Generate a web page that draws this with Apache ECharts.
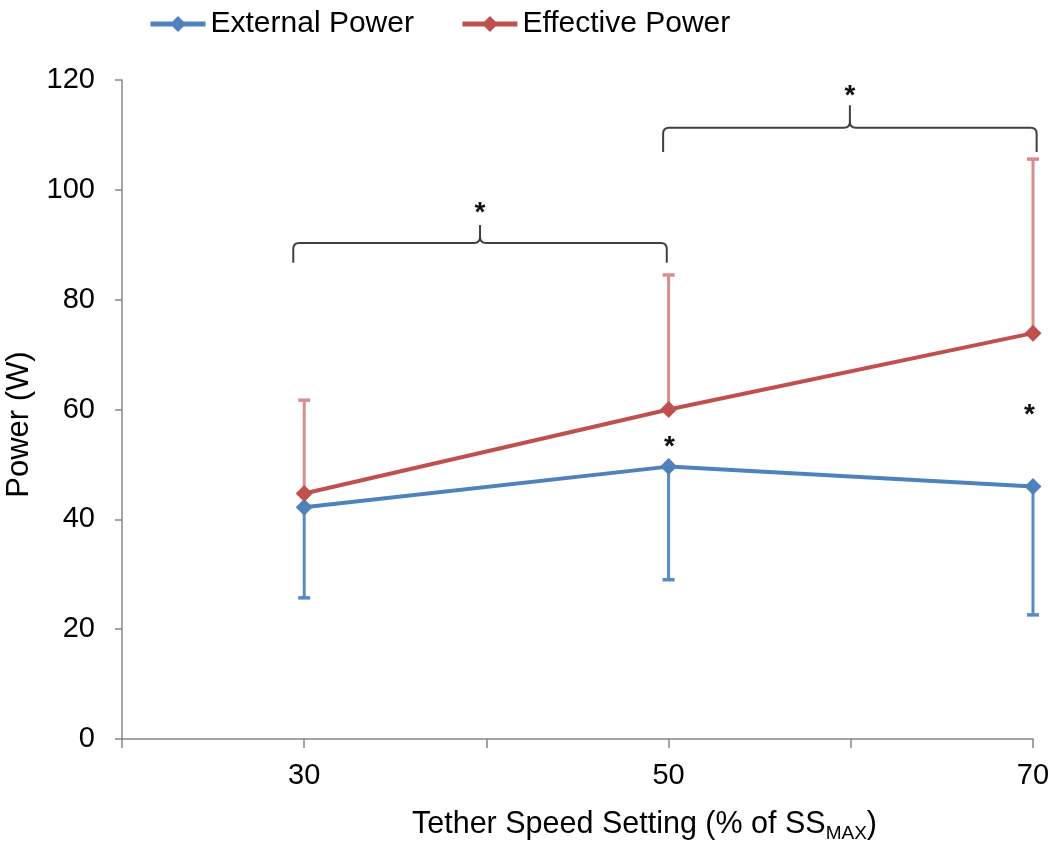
<!DOCTYPE html>
<html>
<head>
<meta charset="utf-8">
<script src="https://cdn.jsdelivr.net/npm/echarts@6/dist/echarts.min.js"></script>
<style>
html,body{margin:0;padding:0;background:#fff;}
#chart{width:1056px;height:843px;}
</style>
</head>
<body>
<div id="chart"></div>
<script>
// ---- data ----
const speedSettings = [30, 50, 70];
const externalPower = [42.2, 49.6, 46.0];
const externalSD = [16.5, 20.6, 23.4];
const effectivePower = [44.7, 60.0, 73.9];
const effectiveSD = [17.0, 24.5, 31.7];
const xLabelTicks = [30, 50, 70];
const yTicks = [0, 20, 40, 60, 80, 100, 120];
// significance braces: [xStart, xEnd, yLine, yEnd, yPeak]
const braces = [
  [29.4, 49.9, 90.3, 86.7, 93.6],
  [49.7, 70.2, 111.3, 106.9, 115.4]
];
// asterisk marks: [x, y]
const asterisks = [
  [39.65, 97.0],
  [59.95, 118.4],
  [50.05, 54.4],
  [69.8, 60.3]
];

const FONT = '"Liberation Sans", Arial, sans-serif';
const BLUE = '#4F81BD', RED = '#C0504D';
const BLUE_ERR = '#5A8AC6', RED_ERR = '#D98E8C';
const AXIS = '#878787';

function errRender(sign, color) {
  return function (params, api) {
    const x = api.value(0), y = api.value(1), sd = api.value(2);
    const p0 = api.coord([x, y]);
    const p1 = api.coord([x, y + sign * sd]);
    return {
      type: 'group',
      children: [
        { type: 'line', shape: { x1: p0[0], y1: p0[1], x2: p1[0], y2: p1[1] }, style: { stroke: color, lineWidth: 3 } },
        { type: 'line', shape: { x1: p1[0] - 6, y1: p1[1], x2: p1[0] + 6, y2: p1[1] }, style: { stroke: color, lineWidth: 3.5 } }
      ]
    };
  };
}

function braceRender(params, api) {
  const a = api.coord([api.value(0), api.value(2)]);
  const b = api.coord([api.value(1), api.value(2)]);
  const yEnd = api.coord([api.value(0), api.value(3)])[1];
  const yPeak = api.coord([api.value(0), api.value(4)])[1];
  const x1 = a[0], x2 = b[0], yl = a[1], xm = (x1 + x2) / 2, r = 6;
  const path = 'M' + x1 + ',' + yEnd +
    ' L' + x1 + ',' + (yl + r) +
    ' Q' + x1 + ',' + yl + ' ' + (x1 + r) + ',' + yl +
    ' L' + (xm - r) + ',' + yl +
    ' Q' + xm + ',' + yl + ' ' + xm + ',' + (yl - r) +
    ' L' + xm + ',' + yPeak +
    ' M' + xm + ',' + (yl - r) +
    ' Q' + xm + ',' + yl + ' ' + (xm + r) + ',' + yl +
    ' L' + (x2 - r) + ',' + yl +
    ' Q' + x2 + ',' + yl + ' ' + x2 + ',' + (yl + r) +
    ' L' + x2 + ',' + yEnd;
  return {
    type: 'path',
    shape: { pathData: path },
    style: { stroke: '#404040', lineWidth: 2, fill: null }
  };
}

function starRender(params, api) {
  const p = api.coord([api.value(0), api.value(1)]);
  return {
    type: 'text',
    x: p[0], y: p[1] + 7,
    style: { text: '*', fontSize: 28, fontWeight: 'bold', fontFamily: FONT, fill: '#111', align: 'center', verticalAlign: 'middle' }
  };
}

const chart = echarts.init(document.getElementById('chart'), null, { renderer: 'canvas' });
chart.setOption({
  animation: false,
  backgroundColor: '#ffffff',
  textStyle: { fontFamily: FONT },
  legend: {
    left: 143, top: 4,
    itemWidth: 55, itemHeight: 20, itemGap: 46,
    lineStyle: { width: 5 },
    textStyle: { fontSize: 30, color: '#000', fontFamily: FONT },
    data: ['External Power', 'Effective Power']
  },
  grid: { left: 122, right: 23, top: 80, bottom: 104, outerBoundsMode: 'none' },
  xAxis: {
    type: 'value', min: 20, max: 70, interval: 10,
    name: '{a|Tether Speed Setting (% of SS}{b|MAX}{a|)}',
    nameLocation: 'middle', nameGap: 68,
    nameTextStyle: {
      padding: [0, 0, 0, 134],
      rich: {
        a: { fontSize: 30.5, fontFamily: FONT, color: '#000', lineHeight: 36 },
        b: { fontSize: 19, fontFamily: FONT, color: '#000', verticalAlign: 'bottom', lineHeight: 19 }
      }
    },
    axisLine: { show: true, lineStyle: { color: AXIS, width: 1.5 } },
    axisTick: { show: true, length: 9, lineStyle: { color: AXIS, width: 1.5 } },
    axisLabel: {
      fontSize: 29, color: '#000', margin: 22, fontFamily: FONT,
      formatter: function (v) { return xLabelTicks.indexOf(v) >= 0 ? String(v) : ''; }
    },
    splitLine: { show: false }
  },
  yAxis: {
    type: 'value', min: yTicks[0], max: yTicks[yTicks.length - 1], interval: 20,
    name: 'Power (W)', nameLocation: 'middle', nameGap: 87, nameRotate: 90,
    nameTextStyle: { fontSize: 31, color: '#000', fontFamily: FONT, padding: [0, 30, 0, 0] },
    axisLine: { show: true, lineStyle: { color: AXIS, width: 1.5 } },
    axisTick: { show: true, length: 7, lineStyle: { color: AXIS, width: 1.5 } },
    axisLabel: { fontSize: 29, color: '#000', margin: 27, fontFamily: FONT },
    splitLine: { show: false }
  },
  series: [
    {
      type: 'custom', name: 'extErr', renderItem: errRender(-1, BLUE_ERR),
      encode: { x: 0, y: 1 }, z: 1,
      data: speedSettings.map((x, i) => [x, externalPower[i], externalSD[i]])
    },
    {
      type: 'custom', name: 'effErr', renderItem: errRender(1, RED_ERR),
      encode: { x: 0, y: 1 }, z: 1,
      data: speedSettings.map((x, i) => [x, effectivePower[i], effectiveSD[i]])
    },
    {
      type: 'line', name: 'External Power', z: 3,
      data: speedSettings.map((x, i) => [x, externalPower[i]]),
      symbol: 'diamond', symbolSize: 17, showAllSymbol: true,
      itemStyle: { color: BLUE }, lineStyle: { color: BLUE, width: 4 }
    },
    {
      type: 'line', name: 'Effective Power', z: 3,
      data: speedSettings.map((x, i) => [x, effectivePower[i]]),
      symbol: 'diamond', symbolSize: 17, showAllSymbol: true,
      itemStyle: { color: RED }, lineStyle: { color: RED, width: 4 }
    },
    {
      type: 'custom', name: 'braces', renderItem: braceRender,
      encode: { x: [0, 1], y: [2, 3, 4] }, z: 4,
      data: braces
    },
    {
      type: 'custom', name: 'stars', renderItem: starRender,
      encode: { x: 0, y: 1 }, z: 5,
      data: asterisks
    }
  ]
});
</script>
</body>
</html>
